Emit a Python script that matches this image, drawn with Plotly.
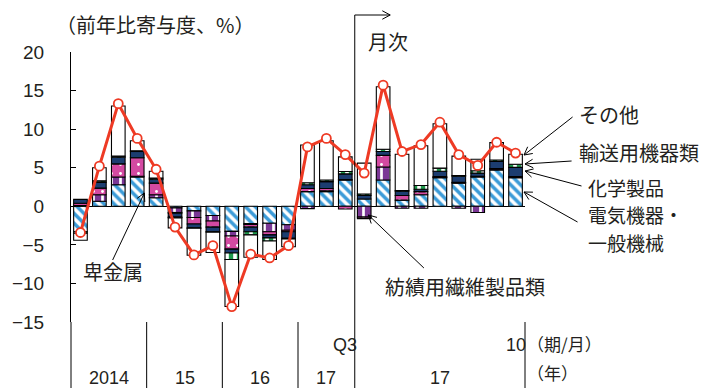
import math
import plotly.graph_objects as go

# ---------------- data ----------------
periods = ["2014Q1", "2014Q2", "2014Q3", "2014Q4",
           "2015Q1", "2015Q2", "2015Q3", "2015Q4",
           "2016Q1", "2016Q2", "2016Q3", "2016Q4",
           "2017Q1", "2017Q2", "2017Q3",
           "2017/2", "2017/3", "2017/4", "2017/5", "2017/6",
           "2017/7", "2017/8", "2017/9", "2017/10"]

elec = [-3.3, 0.65, 2.8, 3.8, 1.1, -0.2, -0.6, -1.2, -3.25, -2.25, -2.2, -2.4,
        1.9, 1.9, 3.4, 0.95, 3.4, 0.8, 1.5, 3.7, 3.0, 3.8, 4.7, 3.7]
textile = [0.1, 0.85, 1.0, 0.1, 0.4, -0.6, -0.85, -0.7, -0.6, -0.1, -1.1, -0.7,
           -0.3, 0.1, 0.05, -1.4, 1.7, -0.25, -0.25, 0.05, -0.25, -0.8, 0.1, 0.05]
metal = [0.3, 0.85, 1.7, 2.4, 1.5, -0.1, -0.85, -0.8, -1.7, -0.35, -0.4, -0.2,
         0.4, 0.3, -0.35, -0.2, 1.5, 0.6, 0.4, 0.1, 0.1, 0.1, 0.1, 0.1]
chem = [0.5, 0.75, 0.85, 0.8, 0.5, -0.5, -0.5, -0.6, -0.5, -0.6, -0.4, -0.85,
        0.5, 0.9, 0.75, 0.45, 0.5, 0.55, 0.3, 0.7, 0.8, 0.4, 0.9, 1.2]
transport = [-0.2, 0.2, 0.15, 0.1, 0.15, -0.1, -0.05, -0.05, -0.85, -0.4, -0.4, -0.1,
             0.25, 0.2, 0.3, 0.2, 0.3, 0.1, 0.5, 0.4, 0.1, 0.3, 0.2, 0.4]
other = [-0.9, 1.7, 6.5, 1.3, 0.9, -1.3, -3.5, -2.65, -6.1, -2.9, -2.4, -1.0,
         4.9, 5.1, 1.9, 4.0, 8.1, 4.7, 5.15, 5.75, 2.5, 1.5, 2.25, 1.3]
total = [-3.4, 5.2, 13.3, 8.8, 4.8, -2.7, -6.3, -5.1, -13.0, -6.2, -6.7, -5.1,
         7.7, 8.8, 6.7, 4.3, 15.7, 7.1, 8.0, 10.9, 6.7, 5.3, 8.3, 6.9]

y_ticks = [-15, -10, -5, 0, 5, 10, 15, 20]
year_labels = ["2014", "15", "16", "17", "17"]
year_label_slots = [1.5, 5.5, 9.5, 13.0, 19.0]
period_labels = ["Q3", "10"]
period_label_slots = [14, 23]
divider_slots = [4, 8, 12, 24]

# ---------------- geometry helpers ----------------
W, H = 704, 388
ML, MR, MT, MB = 67, 179, 52, 66
PW, PH = W - ML - MR, H - MT - MB
N = len(periods)


def px(x):
    return (x - ML) / PW


def py(y):
    return 1 - (y - MT) / PH


def slot_x(s):
    return ML + PW * s / N


JP = "Noto Sans CJK JP"
NUM = "Liberation Sans"
TXT = "#231f20"

fig = go.Figure()

series = [
    ("電気機器・一般機械", elec, dict(shape="\\", fgcolor="#3b9bd8", bgcolor="white", size=7, solidity=0.5)),
    ("紡績用繊維製品類", textile, dict(shape="|", fgcolor="white", bgcolor="#7b3795", size=9, solidity=0.3)),
    ("卑金属", metal, dict(shape=".", fgcolor="white", bgcolor="#d44aa2", size=9, solidity=0.08)),
    ("化学製品", chem, None),
    ("輸送用機器類", transport, dict(shape="|", fgcolor="white", bgcolor="#1f9a4c", size=8, solidity=0.45)),
    ("その他", other, None),
]
solid = {"化学製品": "#1c3d70", "その他": "white"}

for name, vals, pat in series:
    marker = dict(line=dict(color="black", width=1.1))
    if pat is not None:
        marker["color"] = pat["bgcolor"]
        marker["pattern"] = dict(fillmode="replace", **pat)
    else:
        marker["color"] = solid[name]
    fig.add_trace(go.Bar(x=periods, y=vals, name=name, marker=marker, showlegend=False))

fig.add_trace(go.Scatter(
    x=periods, y=total, mode="lines+markers", name="合計", showlegend=False,
    line=dict(color="#ee3a24", width=3),
    marker=dict(symbol="circle", size=9, color="white", line=dict(color="#ee3a24", width=1.8)),
))

shapes = []
annotations = []


def seg(x0, y0, x1, y1, w=1.0):
    shapes.append(dict(type="line", xref="paper", yref="paper",
                       x0=px(x0), y0=py(y0), x1=px(x1), y1=py(y1),
                       line=dict(color="black", width=w)))


def arrow(x0, y0, x1, y1, w=1.0, head=9, ang=28):
    seg(x0, y0, x1, y1, w)
    a = math.atan2(y0 - y1, x0 - x1)
    for s in (-1, 1):
        b = a + s * math.radians(ang)
        seg(x1, y1, x1 + head * math.cos(b), y1 + head * math.sin(b), w)


def text(t, x, y, size, font=JP, xanchor="left"):
    annotations.append(dict(text=t, xref="paper", yref="paper", x=px(x), y=py(y),
                            xanchor=xanchor, yanchor="middle", showarrow=False,
                            font=dict(family=font, size=size, color=TXT)))


# axis extension and category dividers
seg(ML, 322, ML, H)
for s in divider_slots:
    seg(slot_x(s), 322, slot_x(s), H)

# monthly marker line with arrow
seg(slot_x(15), 15, slot_x(15), H)
arrow(slot_x(15), 15, 389, 15)

# label arrows
arrow(573, 117, 524, 155)
arrow(572, 161, 525, 164)
arrow(582, 186, 525, 171)
arrow(578, 222, 524, 192)
arrow(423, 268, 367, 215)
arrow(109, 260, 141, 193)

# texts
text("（前年比寄与度、%）", 50, 25, 20)
text("月次", 365, 41, 20)
text("その他", 577, 114, 20)
text("輸送用機器類", 577, 152, 20)
text("化学製品", 587, 187, 19)
text("電気機器・", 587, 214, 19)
text("一般機械", 587, 242, 19)
text("紡績用繊維製品類", 382, 286, 20)
text("卑金属", 77, 271, 20)
text("（期/月）", 525, 343, 17)
text("（年）", 525, 372, 17)

for lab, s in zip(period_labels, period_label_slots):
    text(lab, slot_x(s + 0.5), 345, 18, font=NUM, xanchor="center")
for lab, s in zip(year_labels, year_label_slots):
    text(lab, slot_x(s + 0.5), 378, 18, font=NUM, xanchor="center")

fig.update_layout(
    width=W, height=H,
    margin=dict(l=ML, r=MR, t=MT, b=MB, pad=0),
    paper_bgcolor="white", plot_bgcolor="white",
    barmode="relative", bargap=0.28,
    shapes=shapes, annotations=annotations,
    xaxis=dict(type="category", range=[-0.5, N - 0.5], showticklabels=False,
               showgrid=False, zeroline=False, showline=False, ticks=""),
    yaxis=dict(range=[-15, 20], tickvals=y_ticks, ticks="inside", ticklen=5,
               tickcolor="black", showline=True, linecolor="black", linewidth=1,
               showgrid=False, zeroline=True, zerolinecolor="black", zerolinewidth=1,
               tickfont=dict(family=NUM, size=19, color=TXT), ticklabelstandoff=22),
    font=dict(family=JP),
)

fig.write_html("out.html")
